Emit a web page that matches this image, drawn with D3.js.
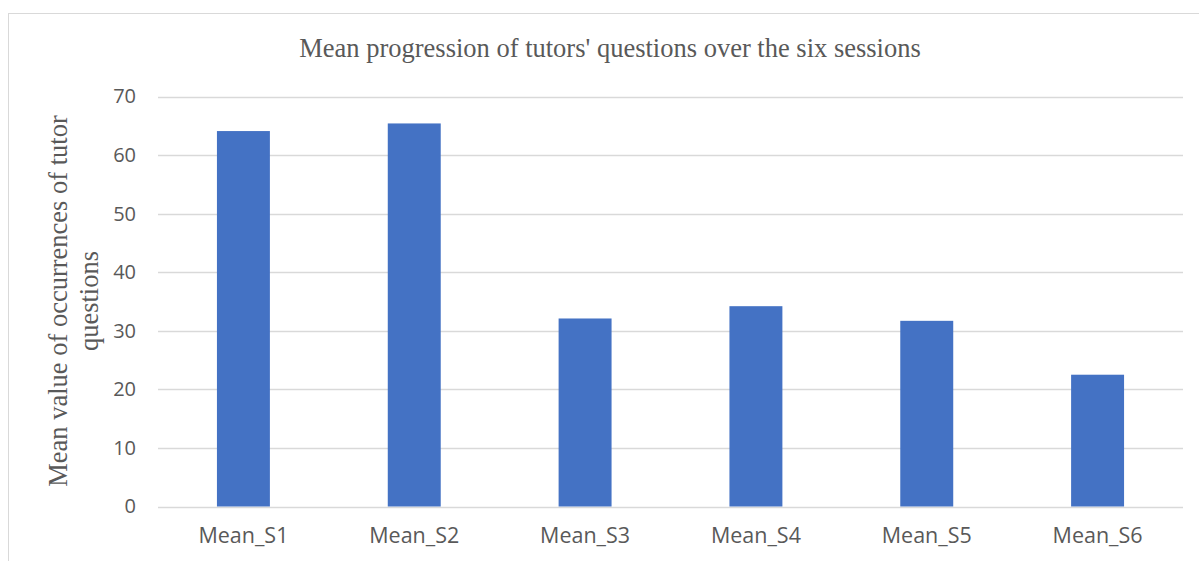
<!DOCTYPE html>
<html>
<head>
<meta charset="utf-8">
<script src="https://cdn.jsdelivr.net/npm/d3@7"></script>
<style>
  html, body { margin: 0; padding: 0; background: #fff; }
  svg { display: block; }
</style>
</head>
<body>
<script>
const categories = ["Mean_S1", "Mean_S2", "Mean_S3", "Mean_S4", "Mean_S5", "Mean_S6"];
const values = [64.1, 65.4, 32.1, 34.2, 31.7, 22.5];
const yTicks = [0, 10, 20, 30, 40, 50, 60, 70];
const titleText = "Mean progression of tutors' questions over the six sessions";
const yTitleLines = ["Mean value of occurrences of tutor", "questions"];

const W = 1199, H = 561;
const plot = { left: 158, right: 1183, top: 96.5, bottom: 506.5 };

const svg = d3.select("body").append("svg").attr("width", W).attr("height", H);

// chart border
svg.append("rect").attr("x", 8.5).attr("y", 13.5).attr("width", W + 10).attr("height", H + 10)
  .attr("fill", "none").attr("stroke", "#d9d9d9").attr("stroke-width", 1);

const x = d3.scaleBand().domain(categories).range([plot.left, plot.right]).paddingInner(0.69).paddingOuter(0.345);
const y = d3.scaleLinear().domain([0, 70]).range([plot.bottom, plot.top]);

// gridlines
svg.append("g").selectAll("line").data(yTicks).join("line")
  .attr("x1", plot.left).attr("x2", plot.right)
  .attr("y1", d => Math.round(y(d)) + 0.5).attr("y2", d => Math.round(y(d)) + 0.5)
  .attr("stroke", "#d9d9d9").attr("stroke-width", 1.5);

// bars
svg.append("g").selectAll("rect").data(values).join("rect")
  .attr("x", (d, i) => x(categories[i]))
  .attr("width", x.bandwidth())
  .attr("y", d => y(d))
  .attr("height", d => y(0) - y(d))
  .attr("fill", "#4472c4");

// y axis labels
const yAxis = d3.axisLeft(y).tickValues(yTicks).tickSize(0).tickPadding(0).tickFormat(d3.format("d"));
const gy = svg.append("g").attr("transform", `translate(136,0)`).call(yAxis);
gy.select(".domain").remove();
gy.selectAll("text").attr("font-family", "'Open Sans', sans-serif").attr("font-size", 20).attr("fill", "#595959");

// x axis labels
const xAxis = d3.axisBottom(x).tickSize(0).tickPadding(0);
const gx = svg.append("g").attr("transform", `translate(0,${plot.bottom + 21})`).call(xAxis);
gx.select(".domain").remove();
gx.selectAll("text").attr("font-family", "'Open Sans', sans-serif").attr("font-size", 21.5).attr("fill", "#595959");

// title
svg.append("text").attr("x", 610).attr("y", 57).attr("text-anchor", "middle")
  .attr("font-family", "'Liberation Serif', 'Times New Roman', serif").attr("font-size", 26.5)
  .attr("fill", "#595959").text(titleText);

// y axis title
const yt = svg.append("text").attr("transform", "translate(67,301) rotate(-90)")
  .attr("text-anchor", "middle")
  .attr("font-family", "'Liberation Serif', 'Times New Roman', serif").attr("font-size", 26.5)
  .attr("fill", "#595959");
yt.selectAll("tspan").data(yTitleLines).join("tspan")
  .attr("x", 0).attr("dy", (d, i) => i === 0 ? 0 : 31).text(d => d);
</script>
</body>
</html>
